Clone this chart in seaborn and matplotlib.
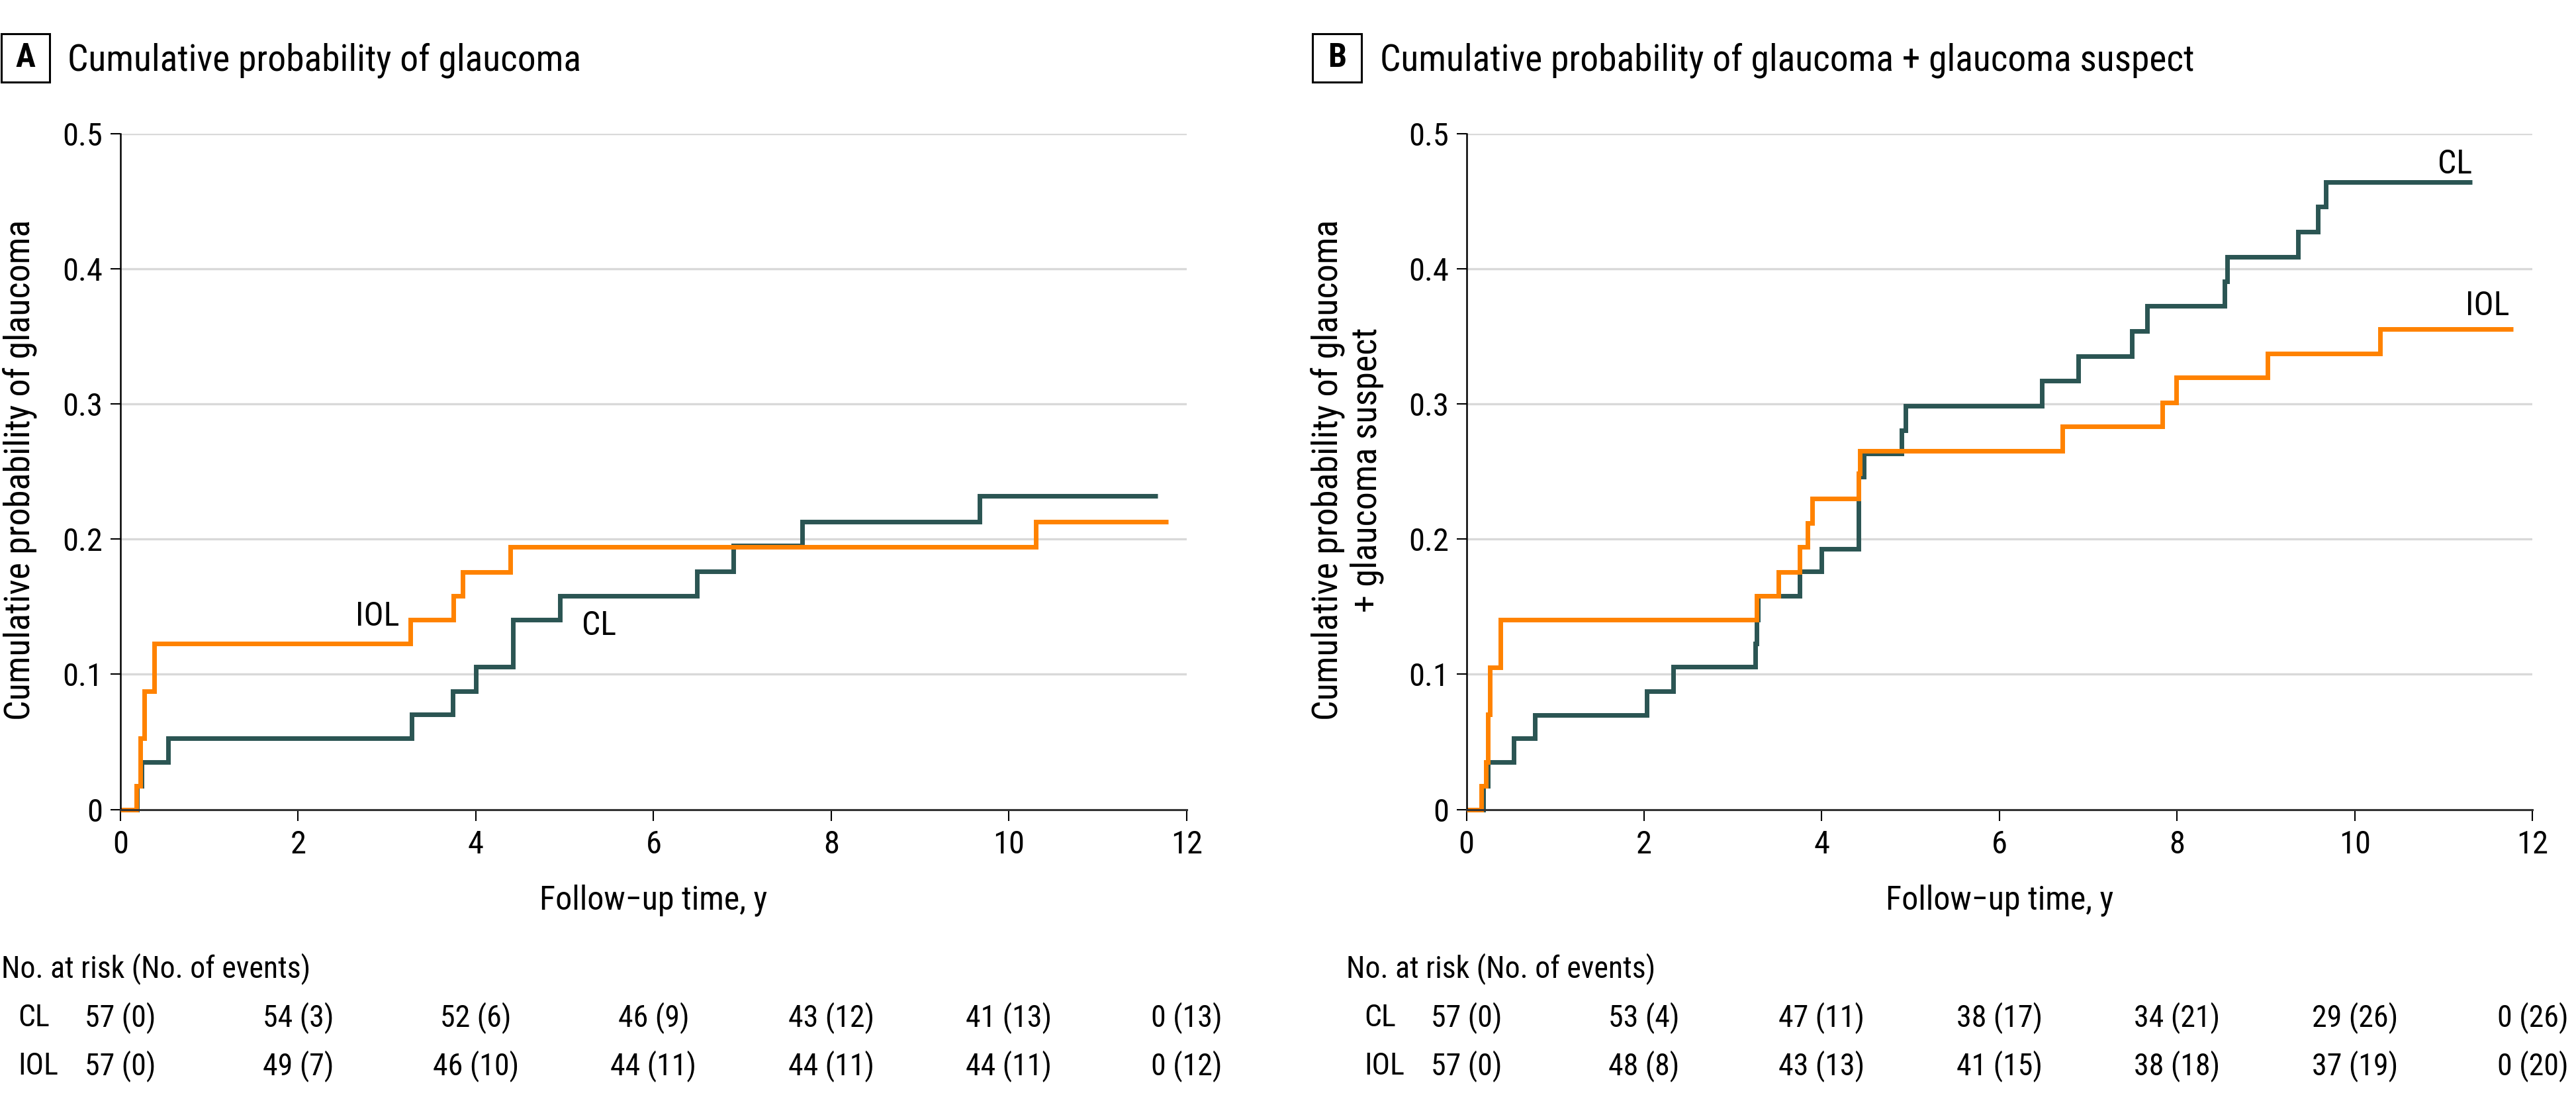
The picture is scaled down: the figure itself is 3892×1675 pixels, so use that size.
import os
import numpy as np
import pandas as pd
import matplotlib
matplotlib.use("Agg")
import matplotlib.pyplot as plt
import matplotlib.transforms as mtrans
from matplotlib import font_manager as fm
from matplotlib.patches import Rectangle
import seaborn as sns

# ---------------- data ----------------
groups = ["CL", "IOL"]

# Panel A: cumulative probability of glaucoma
cl_a_time = [0, 0.19, 0.24, 0.54, 3.28, 3.74, 4.00, 4.42, 4.95, 6.49, 6.90, 7.67, 9.67, 11.67]
cl_a_prob = [0, 0.0175, 0.0351, 0.0527, 0.0702, 0.0877, 0.1054, 0.1403, 0.1580, 0.1763, 0.1954, 0.2130, 0.2318, 0.2318]
iol_a_time = [0, 0.18, 0.224, 0.267, 0.385, 3.26, 3.75, 3.85, 4.39, 10.30, 11.79]
iol_a_prob = [0, 0.0175, 0.0526, 0.0877, 0.1228, 0.1404, 0.1580, 0.1754, 0.1942, 0.2130, 0.2130]

# Panel B: cumulative probability of glaucoma + glaucoma suspect
cl_b_time = [0, 0.19, 0.24, 0.53, 0.77, 2.03, 2.33, 3.25, 3.27, 3.28, 3.75, 4.00, 4.41, 4.47,
             4.90, 4.94, 6.48, 6.89, 7.49, 7.66, 8.53, 8.56, 9.36, 9.58, 9.67, 11.32]
cl_b_prob = [0, 0.0175, 0.0351, 0.0527, 0.0701, 0.0877, 0.1054, 0.1228, 0.1404, 0.1580, 0.1760, 0.1926,
             0.2463, 0.2632, 0.2806, 0.2985, 0.3173, 0.3352, 0.3538, 0.3724, 0.3905, 0.4086, 0.4271,
             0.4457, 0.4641, 0.4641]
iol_b_time = [0, 0.17, 0.22, 0.24, 0.265, 0.38, 3.27, 3.51, 3.75, 3.84, 3.89, 4.41, 4.43, 6.71,
              7.83, 7.99, 9.02, 10.28, 11.78]
iol_b_prob = [0, 0.0175, 0.0351, 0.0702, 0.1053, 0.1404, 0.1580, 0.1755, 0.1940, 0.2120, 0.2300,
              0.2485, 0.2653, 0.2835, 0.3009, 0.3195, 0.3370, 0.3555, 0.3555]

# Risk tables
risk_times = [0, 2, 4, 6, 8, 10, 12]
cl_a_risk = [57, 54, 52, 46, 43, 41, 0]
cl_a_events = [0, 3, 6, 9, 12, 13, 13]
iol_a_risk = [57, 49, 46, 44, 44, 44, 0]
iol_a_events = [0, 7, 10, 11, 11, 11, 12]
cl_b_risk = [57, 53, 47, 38, 34, 29, 0]
cl_b_events = [0, 4, 11, 17, 21, 26, 26]
iol_b_risk = [57, 48, 43, 41, 38, 37, 0]
iol_b_events = [0, 8, 13, 15, 18, 19, 20]

x_ticks = [0, 2, 4, 6, 8, 10, 12]
y_ticks = [0, 0.1, 0.2, 0.3, 0.4, 0.5]
y_ticklabels = ["0", "0.1", "0.2", "0.3", "0.4", "0.5"]

titles = ["Cumulative probability of glaucoma",
          "Cumulative probability of glaucoma + glaucoma suspect"]
ylabels = ["Cumulative probability of glaucoma",
           "Cumulative probability of glaucoma\n+ glaucoma suspect"]
panel_letters = ["A", "B"]
xlabel = "Follow\u2212up time, y"
risk_header = "No. at risk (No. of events)"

# ---------------- style ----------------
CL_COLOR = "#2b5553"
IOL_COLOR = "#ff8200"
palette = {"CL": CL_COLOR, "IOL": IOL_COLOR}

W, H = 3892, 1675
sns.set_theme(style="white")


def pick_condensed_font():
    """Look for an installed narrow / condensed sans font (the reference uses one)."""
    prefs = ["liberationsansnarrow-regular", "robotocondensed-regular",
             "notosans-condensed.", "notosans-condensedregular",
             "opensans_condensed-regular", "opensanscondensed-regular",
             "opensans-condensedregular", "dejavusanscondensed.",
             "notosans-semicondensed.", "notosans-semicondensedregular"]
    try:
        paths = list(fm.findSystemFonts()) + [f.fname for f in fm.fontManager.ttflist]
    except Exception:
        paths = [f.fname for f in fm.fontManager.ttflist]
    low = [(os.path.basename(p).lower(), p) for p in paths]
    for pref in prefs:
        for base, p in low:
            if base.startswith(pref):
                try:
                    fm.fontManager.addfont(p)
                    entry = fm.ttfFontProperty(matplotlib.ft2font.FT2Font(p))
                    # register bold companion if present
                    d = os.path.dirname(p)
                    for b in os.listdir(d):
                        bl = b.lower()
                        if (bl.endswith(".ttf") or bl.endswith(".otf")) and "bold" in bl and \
                                pref.split("-")[0].split(".")[0].split("_")[0] in bl and "italic" not in bl:
                            try:
                                fm.fontManager.addfont(os.path.join(d, b))
                            except Exception:
                                pass
                    return entry
                except Exception:
                    continue
    return None


_entry = pick_condensed_font()
if _entry is not None:
    plt.rcParams["font.family"] = [_entry.name, "Liberation Sans", "DejaVu Sans"]
    plt.rcParams["font.stretch"] = _entry.stretch
else:
    plt.rcParams["font.family"] = ["Liberation Sans", "DejaVu Sans"]
plt.rcParams["text.color"] = "black"

fig = plt.figure(figsize=(W / 100, H / 100), dpi=100)


def fx(px):
    return px / W


def fy(py):
    return 1 - py / H


Y0, Y5 = 1222.7, 201.5
axA = fig.add_axes([fx(181.8), fy(Y0), (1793.0 - 181.8) / W, (Y0 - Y5) / H])
axB = fig.add_axes([fx(2215.5), fy(Y0), (3826.4 - 2215.5) / W, (Y0 - Y5) / H])


def make_df(cl_t, cl_p, iol_t, iol_p):
    return pd.concat([
        pd.DataFrame({"time": cl_t, "prob": cl_p, "group": "CL"}),
        pd.DataFrame({"time": iol_t, "prob": iol_p, "group": "IOL"}),
    ], ignore_index=True)


dfs = [make_df(cl_a_time, cl_a_prob, iol_a_time, iol_a_prob),
       make_df(cl_b_time, cl_b_prob, iol_b_time, iol_b_prob)]

for ax, df in zip([axA, axB], dfs):
    sns.lineplot(data=df, x="time", y="prob", hue="group", hue_order=groups,
                 palette=palette, drawstyle="steps-post", estimator=None,
                 linewidth=5.0, legend=False, ax=ax, clip_on=False,
                 solid_joinstyle="miter", solid_capstyle="butt")
    ax.set_xlim(0, 12)
    ax.set_ylim(0, 0.5)
    ax.set_xticks(x_ticks)
    ax.set_xticklabels([str(t) for t in x_ticks])
    ax.set_yticks(y_ticks)
    ax.set_yticklabels(y_ticklabels)
    ax.set_xlabel("")
    ax.set_ylabel("")
    ax.yaxis.grid(True, color="#d9d9d9", linewidth=2.4)
    ax.xaxis.grid(False)
    ax.set_axisbelow(True)
    for s in ["top", "right"]:
        ax.spines[s].set_visible(False)
    ax.spines["left"].set_color("black")
    ax.spines["left"].set_linewidth(1.8)
    ax.spines["bottom"].set_color("#333333")
    ax.spines["bottom"].set_linewidth(2.2)
    ax.tick_params(axis="x", bottom=True, direction="out", length=12, width=1.5,
                   color="black", pad=10, labelsize=35, labelcolor="black")
    ax.tick_params(axis="y", left=True, direction="out", length=11, width=1.5,
                   color="black", pad=8, labelsize=35, labelcolor="black")
    ax.set_facecolor("white")

# curve labels
axA.text(2.645, 0.1359, "IOL", fontsize=36, ha="left", va="baseline")
axA.text(5.19, 0.1289, "CL", fontsize=36, ha="left", va="baseline")
axB.text(11.32, 0.4706, "CL", fontsize=36, ha="right", va="baseline")
axB.text(11.74, 0.3654, "IOL", fontsize=36, ha="right", va="baseline")

# titles with boxed letters
box_lefts = [1.5, 1983.2]
title_lefts = [102, 2085]
for letter, title, bl, tl in zip(panel_letters, titles, box_lefts, title_lefts):
    rect = Rectangle((fx(bl), fy(124.3)), 73.5 / W, 73.6 / H, transform=fig.transFigure,
                     fill=False, edgecolor="black", linewidth=2.2)
    fig.add_artist(rect)
    fig.text(fx(bl + 36.8), fy(87.5), letter, fontsize=36, fontweight="bold",
             ha="center", va="center")
    fig.text(fx(tl), fy(106.7), title, fontsize=40, ha="left", va="baseline")

# y labels
fig.text(fx(31), fy(710), ylabels[0], fontsize=39, rotation=90, ha="center", va="center")
fig.text(fx(2036), fy(710), ylabels[1], fontsize=39, rotation=90, ha="center", va="center",
         multialignment="center", linespacing=1.15)

# x labels
for ax in [axA, axB]:
    tr = mtrans.blended_transform_factory(ax.transAxes, fig.transFigure)
    ax.text(0.5, fy(1373), xlabel, transform=tr, fontsize=36, ha="center", va="baseline")

# risk tables
header_x = [2, 2034]
rowlab_x = [26.8, 2061.5]
tables = [((cl_a_risk, cl_a_events), (iol_a_risk, iol_a_events)),
          ((cl_b_risk, cl_b_events), (iol_b_risk, iol_b_events))]
row_y = [1550, 1623.3]
for ax, hx, rx, tab in zip([axA, axB], header_x, rowlab_x, tables):
    fig.text(fx(hx), fy(1476.7), risk_header, fontsize=33, ha="left", va="baseline")
    tr = mtrans.blended_transform_factory(ax.transData, fig.transFigure)
    for g, (risk, ev), ry in zip(groups, tab, row_y):
        fig.text(fx(rx), fy(ry), g, fontsize=33, ha="left", va="baseline")
        for t, n, e in zip(risk_times, risk, ev):
            ax.text(t, fy(ry), f"{n} ({e})", transform=tr, fontsize=33,
                    ha="center", va="baseline")

fig.savefig("out.png", dpi=100, facecolor="white")
